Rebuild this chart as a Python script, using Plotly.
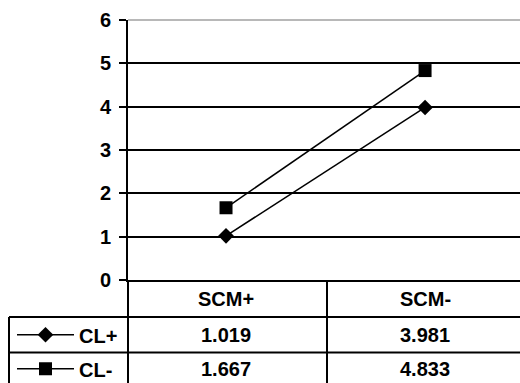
import plotly.graph_objects as go

# Data
categories = ["SCM+", "SCM-"]
series_names = ["CL+", "CL-"]
cl_plus = [1.019, 3.981]
cl_minus = [1.667, 4.833]
y_ticks = [0, 1, 2, 3, 4, 5, 6]

# Layout constants (pixels)
W, H = 520, 383
PLOT_LEFT, PLOT_RIGHT = 128, 520
Y_ZERO, Y_TOP = 280, 20          # pixel rows of value 0 and value 6
ROW1, ROW2, ROW_END = 317, 352.5, 388
TABLE_LEFT = 9
COL_SPLIT = 327

FONT = dict(family="Liberation Sans, Arial, sans-serif", size=20, color="black", weight="bold")


def px(x):
    return x / W


def py(y):
    return 1 - y / H


def bold(s):
    return f"<b>{s}</b>"


fig = go.Figure()
symbols = ["diamond", "square"]
sizes = [12, 13]
for i, (name, vals) in enumerate(zip(series_names, [cl_plus, cl_minus])):
    fig.add_trace(go.Scatter(
        x=categories, y=vals, name=bold(name), mode="lines+markers",
        line=dict(color="black", width=1.5),
        marker=dict(symbol=symbols[i], size=sizes[i], color="black"),
        legend="legend" if i == 0 else "legend2",
    ))

shapes = []
line_style = dict(color="black", width=2)
# plot-area top border (grey)
shapes.append(dict(type="line", xref="paper", yref="paper", x0=px(PLOT_LEFT), x1=1,
                   y0=py(Y_TOP), y1=py(Y_TOP), line=dict(color="#b8b8b8", width=2), layer="above"))
# table rules
for y in (ROW1, ROW2):
    shapes.append(dict(type="line", xref="paper", yref="paper", x0=px(TABLE_LEFT), x1=1,
                       y0=py(y), y1=py(y), line=line_style))
shapes.append(dict(type="line", xref="paper", yref="paper", x0=px(TABLE_LEFT), x1=px(TABLE_LEFT),
                   y0=py(ROW1), y1=py(ROW_END), line=line_style))
shapes.append(dict(type="line", xref="paper", yref="paper", x0=px(PLOT_LEFT), x1=px(PLOT_LEFT),
                   y0=py(Y_ZERO), y1=py(ROW_END), line=line_style))
shapes.append(dict(type="line", xref="paper", yref="paper", x0=px(COL_SPLIT), x1=px(COL_SPLIT),
                   y0=py(Y_ZERO), y1=py(ROW_END), line=line_style))

annotations = []
header_y = (Y_ZERO + ROW1) / 2
row_y = [(ROW1 + ROW2) / 2, (ROW2 + ROW_END) / 2 - 1.5]
for j, cat in enumerate(categories):
    annotations.append(dict(x=cat, y=py(header_y), xref="x", yref="paper", text=bold(cat),
                            xanchor="center", yanchor="middle", showarrow=False, font=FONT))
    for r, vals in enumerate([cl_plus, cl_minus]):
        annotations.append(dict(x=cat, y=py(row_y[r]), xref="x", yref="paper",
                                text=bold(f"{vals[j]:.3f}"), xanchor="center", yanchor="middle",
                                showarrow=False, font=FONT))

legend_common = dict(font=FONT, bgcolor="rgba(0,0,0,0)", borderwidth=0, xanchor="left",
                     yanchor="middle", itemwidth=57, tracegroupgap=0)

fig.update_layout(
    width=W, height=H,
    margin=dict(l=0, r=0, t=0, b=0, autoexpand=False),
    paper_bgcolor="white", plot_bgcolor="white",
    showlegend=True,
    legend=dict(x=px(TABLE_LEFT + 3), y=py(row_y[0]), **legend_common),
    legend2=dict(x=px(TABLE_LEFT + 3), y=py(row_y[1]), **legend_common),
    xaxis=dict(domain=[px(PLOT_LEFT), 1], range=[-0.4925, 1.477], type="category",
               showticklabels=False, ticks="", showgrid=False, zeroline=False,
               showline=True, linecolor="black", linewidth=2, automargin=False),
    yaxis=dict(domain=[py(Y_ZERO), py(Y_TOP)], range=[0, 6], tickvals=y_ticks,
               ticktext=[bold(t) for t in y_ticks],
               ticks="outside", ticklen=7, tickwidth=2, tickcolor="black",
               tickfont=FONT, ticklabelstandoff=4, automargin=False,
               showgrid=True, gridcolor="black", gridwidth=2, zeroline=False,
               showline=True, linecolor="black", linewidth=2),
    shapes=shapes,
    annotations=annotations,
)

fig.write_html("out.html")
